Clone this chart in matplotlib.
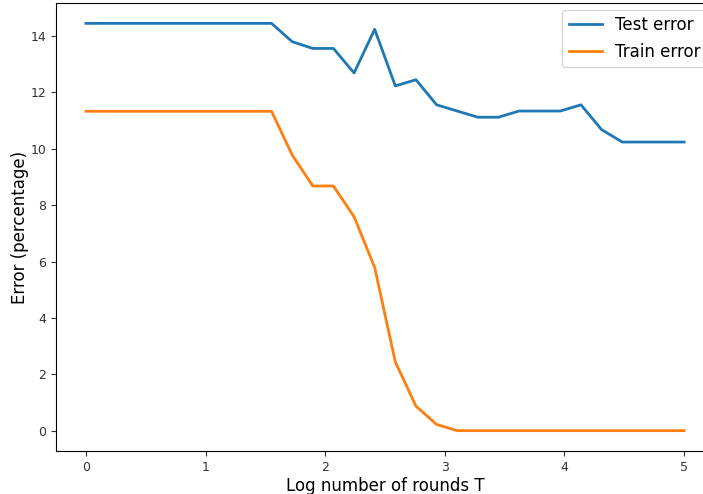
import numpy as np
import matplotlib.pyplot as plt

# log10 of the number of boosting rounds, 30 evenly spaced points
log_rounds = np.linspace(0, 5, 30)

test_error = [14.45, 14.45, 14.45, 14.45, 14.45, 14.45, 14.45, 14.45, 14.45, 14.45,
              13.80, 13.56, 13.56, 12.69, 14.24, 12.23, 12.45, 11.56, 11.34, 11.12,
              11.12, 11.34, 11.34, 11.34, 11.56, 10.68, 10.24, 10.24, 10.24, 10.24]
train_error = [11.33, 11.33, 11.33, 11.33, 11.33, 11.33, 11.33, 11.33, 11.33, 11.33,
               9.78, 8.68, 8.68, 7.59, 5.79, 2.44, 0.87, 0.22, 0.0, 0.0,
               0.0, 0.0, 0.0, 0.0, 0.0, 0.0, 0.0, 0.0, 0.0, 0.0]

fig = plt.figure(figsize=(7.03, 4.94), dpi=100)
ax = fig.add_axes([56/703, 43/494, 658/703, 448/494])

ax.plot(log_rounds, test_error, lw=2, label="Test error")
ax.plot(log_rounds, train_error, lw=2, label="Train error")

ax.set_xlabel("Log number of rounds T", fontsize=12, labelpad=2)
ax.set_ylabel("Error (percentage)", fontsize=12, labelpad=1)
ax.tick_params(labelsize=9, colors="#333333")
ax.legend(loc="upper right", fontsize=12, borderaxespad=0.4)

fig.savefig("out.png", dpi=100)
